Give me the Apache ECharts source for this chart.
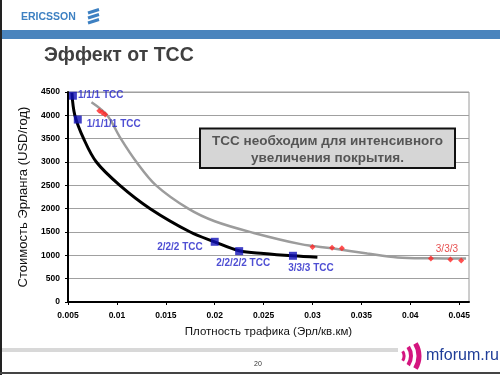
<!DOCTYPE html>
<html>
<head>
<meta charset="utf-8">
<script src="https://cdn.jsdelivr.net/npm/echarts@6/dist/echarts.min.js"></script>
<style>
html,body{margin:0;padding:0;background:#fff;}
#c{width:500px;height:375px;}
</style>
</head>
<body>
<div id="c"></div>
<script>
// ---- data ----
const blackX = [0.0054, 0.0057, 0.0066, 0.0079, 0.0103, 0.0134, 0.0175, 0.0200, 0.0225, 0.0250, 0.0280, 0.0305];
const blackY = [4480, 4000, 3500, 3000, 2500, 2000, 1500, 1290, 1100, 1040, 990, 960];
const grayX = [0.0074, 0.0090, 0.0104, 0.0120, 0.0140, 0.0173, 0.0200, 0.0240, 0.0288, 0.0320, 0.0356, 0.0387, 0.0420, 0.0457];
const grayY = [4280, 4000, 3500, 3000, 2500, 2000, 1730, 1480, 1240, 1150, 1040, 955, 935, 930];
const tccX = [0.0055, 0.0060, 0.0200, 0.0225, 0.0280];
const tccY = [4420, 3910, 1290, 1090, 990];
const tccLabels = ['1/1/1 TCC', '1/1/1/1 TCC', '2/2/2 TCC', '2/2/2/2 TCC', '3/3/3 TCC'];
const redX = [0.0082, 0.0085, 0.0088, 0.0300, 0.0320, 0.0330, 0.0421, 0.0441, 0.0452];
const redY = [4100, 4060, 4020, 1180, 1160, 1150, 930, 910, 890];
const redLabel = '3/3/3';
const redLabelIndex = 7;
const titleText = 'Эффект от TCC';
const noteText = 'TCC необходим для интенсивного\nувеличения покрытия.';
const xTitle = 'Плотность трафика (Эрл/кв.км)';
const yTitle = 'Стоимость Эрланга (USD/год)';
const pageNo = '20';

// ---- label placement (style) ----
const tccLabelStyle = [
  {position: 'right', distance: 1, offset: [0, 0]},
  {position: 'right', distance: 5, offset: [0, 5]},
  {position: 'left', distance: 8, offset: [0, 5]},
  {position: 'bottom', distance: 3, offset: [4, 0]},
  {position: 'bottom', distance: 3, offset: [18, 0]}
];

const FONT = 'Liberation Sans, Arial, sans-serif';
const chart = echarts.init(document.getElementById('c'), null, {renderer: 'canvas'});

const zip = (xs, ys) => xs.map((x, i) => [x, ys[i]]);

const option = {
  animation: false,
  backgroundColor: '#fff',
  grid: {left: 68, right: 31, top: 92, bottom: 73, show: true, borderColor: '#9a9a9a', borderWidth: 1, backgroundColor: 'transparent'},
  xAxis: {
    type: 'value', min: 0.005, max: 0.046, interval: 0.005,
    name: xTitle, nameLocation: 'middle', nameGap: 24,
    nameTextStyle: {fontFamily: FONT, fontSize: 11.5, color: '#111'},
    axisLine: {show: true, onZero: false, lineStyle: {color: '#000', width: 2}},
    axisTick: {show: true, length: 3, lineStyle: {color: '#000'}},
    splitLine: {show: false},
    axisLabel: {showMaxLabel: false, margin: 9, fontFamily: FONT, fontSize: 8.5, fontWeight: 'bold', color: '#000',
      formatter: v => String(+v.toFixed(3))}
  },
  yAxis: {
    type: 'value', min: 0, max: 4500, interval: 500,
    name: yTitle, nameLocation: 'middle', nameGap: 28, nameRotate: 90,
    nameTextStyle: {fontFamily: FONT, fontSize: 13, color: '#111'},
    axisLine: {show: true, onZero: false, lineStyle: {color: '#000', width: 2}},
    axisTick: {show: true, length: 3, lineStyle: {color: '#000'}},
    splitLine: {show: true, lineStyle: {color: '#a0a0a0', width: 1}},
    axisLabel: {margin: 8, fontFamily: FONT, fontSize: 8.5, fontWeight: 'bold', color: '#000',
      formatter: v => String(v)}
  },
  series: [
    {type: 'line', data: zip(grayX, grayY), smooth: 0.35, showSymbol: false,
      lineStyle: {color: '#9c9c9c', width: 2.5}, z: 2},
    {type: 'line', data: zip(blackX, blackY), smooth: 0.35, showSymbol: false,
      lineStyle: {color: '#000', width: 3}, z: 3},
    {type: 'scatter', symbol: 'diamond', symbolSize: 6, itemStyle: {color: '#ff2525'}, z: 4,
      data: zip(redX, redY).map((p, i) => i === redLabelIndex ? {
        value: p,
        label: {show: true, formatter: redLabel, position: 'top', distance: 2, offset: [-3.5, 0],
          fontFamily: FONT, fontSize: 10, color: '#e02020'}
      } : {value: p})},
    {type: 'scatter', symbol: 'rect', symbolSize: 8, itemStyle: {color: '#1212b8'}, z: 5,
      data: zip(tccX, tccY).map((p, i) => ({
        value: p,
        label: Object.assign({show: true, formatter: tccLabels[i], fontFamily: FONT, fontSize: 10,
          fontWeight: 'bold', color: '#2222c8'}, tccLabelStyle[i])
      }))}
  ],
  graphic: [
    {type: 'rect', shape: {x: 0, y: 30, width: 500, height: 9}, style: {fill: '#4a84bd'}, silent: true},
    {type: 'text', x: 21, y: 17, style: {text: 'ERICSSON', font: 'bold 10.5px ' + FONT, fill: '#3d80c2', textVerticalAlign: 'middle'}},
    {type: 'polyline', shape: {points: [[88, 13], [99, 9.5]]}, style: {stroke: '#3d80c2', lineWidth: 3}},
    {type: 'polyline', shape: {points: [[88, 18], [99, 14.5]]}, style: {stroke: '#3d80c2', lineWidth: 3}},
    {type: 'polyline', shape: {points: [[88, 23], [99, 19.5]]}, style: {stroke: '#3d80c2', lineWidth: 3}},
    {type: 'text', x: 44, y: 56, style: {text: titleText, font: 'bold 19.5px ' + FONT, fill: '#404040', textVerticalAlign: 'middle'}},
    {type: 'rect', z: 100, shape: {x: 200, y: 128.5, width: 255, height: 39.5}, style: {fill: '#d6d6d6', stroke: '#111', lineWidth: 2}},
    {type: 'text', z: 101, x: 327.5, y: 150, style: {text: noteText, font: 'bold 13.5px ' + FONT, fill: '#555',
      textAlign: 'center', textVerticalAlign: 'middle', lineHeight: 17}},
    {type: 'rect', shape: {x: 2, y: 348, width: 396, height: 4}, style: {fill: '#d8d8d8'}},
    {type: 'text', x: 258, y: 364, style: {text: pageNo, font: '7px ' + FONT, fill: '#333', textAlign: 'center', textVerticalAlign: 'middle'}},
    {type: 'arc', shape: {cx: 395, cy: 356, r: 9, startAngle: -0.55, endAngle: 0.55}, style: {stroke: '#d4157f', lineWidth: 3, fill: null}},
    {type: 'arc', shape: {cx: 395, cy: 356, r: 16, startAngle: -0.6, endAngle: 0.6}, style: {stroke: '#d4157f', lineWidth: 4, fill: null}},
    {type: 'arc', shape: {cx: 395, cy: 356, r: 24, startAngle: -0.55, endAngle: 0.55}, style: {stroke: '#d4157f', lineWidth: 5, fill: null}},
    {type: 'text', x: 426, y: 356, style: {text: 'mforum.ru', font: '16px ' + FONT, fill: '#1f3d98', textVerticalAlign: 'middle'}},
    {type: 'rect', shape: {x: 0, y: 0, width: 2, height: 375}, style: {fill: '#222'}},
    {type: 'rect', shape: {x: 0, y: 372, width: 500, height: 2}, style: {fill: '#444'}}
  ]
};
chart.setOption(option);
</script>
</body>
</html>
